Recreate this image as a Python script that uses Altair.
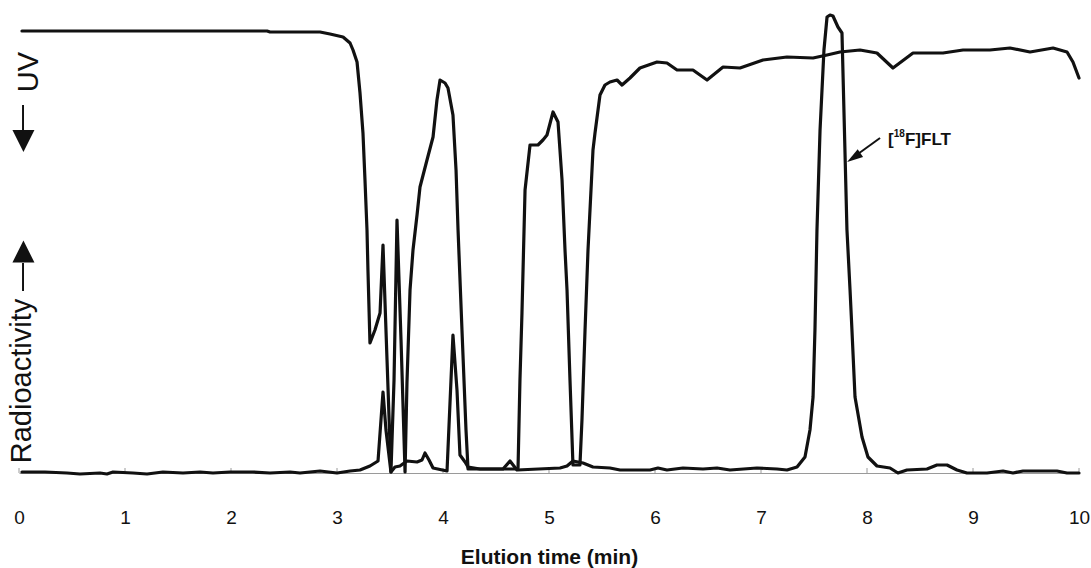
import altair as alt
import pandas as pd

# ---- Radioactivity trace: elution time (min) / detector signal (a.u.) ----
radio_t = [0.028, 0.245, 0.453, 0.575, 0.764, 0.830, 0.887, 1.075, 1.208, 1.358,
           1.547, 1.708, 1.830, 1.991, 2.208, 2.368, 2.557, 2.651, 2.840, 3.000,
           3.123, 3.217, 3.311, 3.387, 3.434, 3.462, 3.509, 3.547, 3.594, 3.660,
           3.755, 3.802, 3.830, 3.868, 3.906, 4.038, 4.094, 4.132, 4.160, 4.208,
           4.236, 4.349, 4.566, 4.632, 4.698, 5.104, 5.170, 5.226, 5.321, 5.415,
           5.575, 5.670, 5.953, 6.028, 6.113, 6.264, 6.453, 6.585, 6.708, 6.962,
           7.151, 7.245, 7.340, 7.415, 7.462, 7.491, 7.509, 7.528, 7.557, 7.594,
           7.623, 7.651, 7.679, 7.726, 7.764, 7.811, 7.840, 7.858, 7.887, 7.953,
           8.009, 8.094, 8.217, 8.292, 8.377, 8.566, 8.660, 8.755, 8.849, 8.943,
           9.132, 9.283, 9.377, 9.472, 9.792, 9.887, 10.0]
radio_v = [1, 1, 0, -1, 0, -1, 1, 0, -1, 1,
           0, 1, 0, 1, 1, 0, 1, 0, 2, 0,
           2, 3, 7, 12, 81, 43, 1, 6, 7, 12,
           11, 13, 20, 13, 5, 2, 138, 83, 18, 11,
           6, 4, 4, 12, 3, 5, 7, 12, 10, 6,
           5, 3, 3, 5, 3, 5, 4, 5, 3, 5,
           4, 3, 6, 16, 43, 76, 143, 243, 343, 423,
           456, 458, 457, 446, 440, 243, 183, 143, 76, 36,
           16, 7, 5, 0, 3, 4, 8, 8, 3, 0,
           0, 2, 0, 2, 2, 0, 0]

# ---- UV trace (plotted inverted: absorbance increases downward) ----
uv_t = [0.028, 0.764, 1.708, 2.340, 2.368, 2.840, 2.934, 3.057, 3.123, 3.151,
        3.189, 3.217, 3.245, 3.264, 3.283, 3.292, 3.311, 3.358, 3.406, 3.434,
        3.472, 3.509, 3.538, 3.566, 3.604, 3.642, 3.660, 3.689, 3.717, 3.755,
        3.783, 3.849, 3.906, 3.943, 3.972, 4.019, 4.047, 4.094, 4.123, 4.142,
        4.179, 4.217, 4.236, 4.443, 4.679, 4.708, 4.726, 4.745, 4.774, 4.821,
        4.896, 4.943, 4.981, 5.038, 5.085, 5.123, 5.151, 5.170, 5.198, 5.226,
        5.292, 5.311, 5.340, 5.368, 5.415, 5.434, 5.481, 5.528, 5.575, 5.642,
        5.689, 5.764, 5.858, 6.019, 6.113, 6.208, 6.358, 6.491, 6.642, 6.802,
        7.019, 7.245, 7.491, 7.623, 7.745, 7.934, 8.094, 8.245, 8.434, 8.717,
        8.906, 9.160, 9.349, 9.538, 9.755, 9.887, 9.943, 10.0]
uv_v = [442, 442, 442, 442, 441, 441, 439, 436, 430, 423,
        411, 380, 340, 293, 243, 203, 130, 143, 160, 228,
        113, 1, 93, 253, 133, 1, 90, 183, 223, 258,
        286, 313, 336, 373, 393, 390, 385, 358, 303, 243,
        143, 43, 4, 4, 4, 5, 93, 160, 283, 328,
        328, 333, 338, 361, 351, 293, 223, 183, 93, 8,
        8, 53, 143, 223, 323, 340, 378, 388, 391, 393,
        388, 395, 405, 411, 410, 403, 403, 393, 406, 405,
        413, 416, 415, 418, 421, 423, 420, 405, 420, 420,
        423, 423, 425, 421, 425, 421, 411, 395]

tick_values = [0, 1, 2, 3, 4, 5, 6, 7, 8, 9, 10]

FONT = "Liberation Sans"
INK = "#111111"

rows = []
for i, (t, v) in enumerate(zip(radio_t, radio_v)):
    rows.append({"t": t, "v": v, "series": "Radioactivity", "idx": i})
for i, (t, v) in enumerate(zip(uv_t, uv_v)):
    rows.append({"t": t, "v": v, "series": "UV", "idx": i})
traces = pd.DataFrame(rows)

xscale = alt.Scale(domain=[0, 10], nice=False, zero=False)
yscale = alt.Scale(domain=[0, 473], nice=False, zero=False)

x_axis = alt.Axis(
    values=tick_values, format="d", ticks=False, tickSize=0, grid=False,
    domainColor="#9a9a9a", domainWidth=1,
    labelFont=FONT, labelFontSize=19, labelColor=INK,
    labelPadding=44, labelBaseline="middle", labelFlush=False,
    title="Elution time (min)", titleFont=FONT, titleFontSize=21,
    titleFontWeight="bold", titleColor=INK, titleY=84, titleBaseline="middle",
)

X = alt.X("t:Q", scale=xscale, axis=x_axis, title="Elution time (min)")
Y = alt.Y("v:Q", scale=yscale, axis=None)

lines = alt.Chart(traces).mark_line(
    color=INK, strokeWidth=3.2, strokeJoin="round", strokeCap="round", clip=False
).encode(x=X, y=Y, detail="series:N", order="idx:Q")

# small upward tick marks on the time axis
ticks_df = pd.DataFrame({"t": tick_values, "v": [0] * 11, "v2": [5] * 11})
ticks = alt.Chart(ticks_df).mark_rule(color="#9a9a9a", strokeWidth=1).encode(
    x=X, y=Y, y2="v2:Q")

# arrow shafts (UV down, Radioactivity up, label pointer)
shaft_df = pd.DataFrame({
    "t": [0.038, 0.038, 8.123],
    "v": [368, 210, 335],
    "t2": [0.038, 0.038, 7.875],
    "v2": [336, 182, 316],
})
shafts = alt.Chart(shaft_df).mark_rule(color=INK, strokeWidth=2).encode(
    x=X, y=Y, x2="t2:Q", y2="v2:Q")

head_down = alt.Chart(pd.DataFrame({"t": [0.042], "v": [332]})).mark_point(
    shape="M0,1L-1,-1L1,-1Z", filled=True, color=INK, opacity=1, size=484, strokeWidth=0
).encode(x=X, y=Y)
head_up = alt.Chart(pd.DataFrame({"t": [0.042], "v": [221.5]})).mark_point(
    shape="M0,-1L1,1L-1,1Z", filled=True, color=INK, opacity=1, size=484, strokeWidth=0
).encode(x=X, y=Y)
head_flt = alt.Chart(pd.DataFrame({"t": [7.875], "v": [315.4]})).mark_point(
    shape="M0,-1L0.6,1L-0.6,1Z", filled=True, color=INK, opacity=1, size=256,
    strokeWidth=0, angle=236
).encode(x=X, y=Y)

# rotated detector labels
uv_lbl = alt.Chart(pd.DataFrame({"t": [0.094], "v": [401], "txt": ["UV"]})).mark_text(
    angle=270, font=FONT, fontSize=29, color=INK, align="center", baseline="middle"
).encode(x=X, y=Y, text="txt:N")
ra_lbl = alt.Chart(pd.DataFrame({"t": [0.033], "v": [92], "txt": ["Radioactivity"]})).mark_text(
    angle=270, font=FONT, fontSize=29, color=INK, align="center", baseline="middle"
).encode(x=X, y=Y, text="txt:N")

# [18F]FLT annotation
br = alt.Chart(pd.DataFrame({"t": [8.198], "v": [328], "txt": ["["]})).mark_text(
    font=FONT, fontSize=17, fontWeight="bold", color=INK, align="left", baseline="alphabetic"
).encode(x=X, y=Y, text="txt:N")
sup = alt.Chart(pd.DataFrame({"t": [8.252], "v": [336], "txt": ["18"]})).mark_text(
    font=FONT, fontSize=10, fontWeight="bold", color=INK, align="left", baseline="alphabetic"
).encode(x=X, y=Y, text="txt:N")
flt = alt.Chart(pd.DataFrame({"t": [8.358], "v": [328], "txt": ["F]FLT"]})).mark_text(
    font=FONT, fontSize=17, fontWeight="bold", color=INK, align="left", baseline="alphabetic"
).encode(x=X, y=Y, text="txt:N")

chart = alt.layer(
    ticks, lines, shafts, head_down, head_up, head_flt, uv_lbl, ra_lbl, br, sup, flt
).properties(
    width=1060, height=473,
    autosize=alt.AutoSizeParams(type="none"),
    padding={"left": 19, "right": 12, "top": 0, "bottom": 95},
    background="white",
).configure_view(stroke=None).configure_axis(grid=False)

chart.save("out.html", embed_options={"renderer": "svg", "actions": False})
